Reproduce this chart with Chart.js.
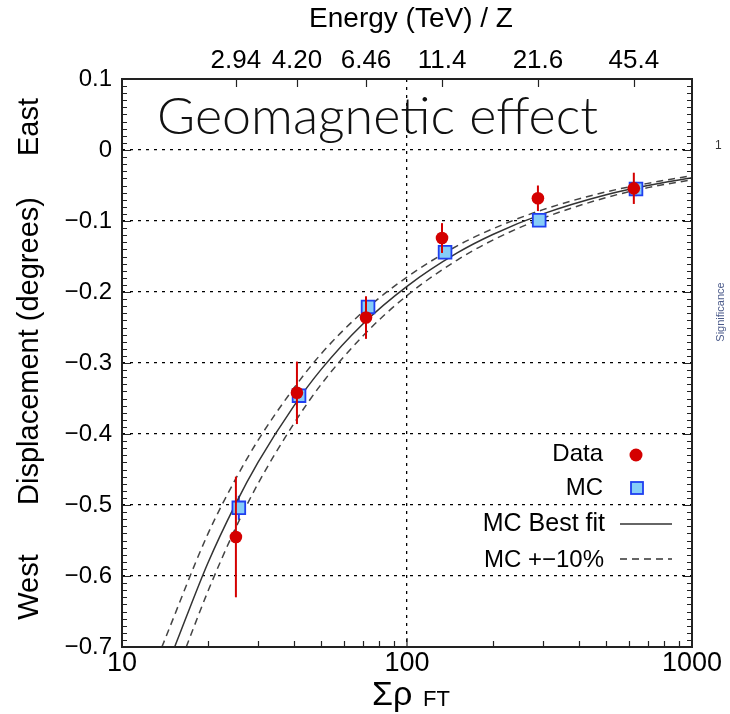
<!DOCTYPE html>
<html>
<head>
<meta charset="utf-8">
<title>Geomagnetic effect</title>
<script src="https://cdn.jsdelivr.net/npm/chart.js@4.4.1/dist/chart.umd.min.js"></script>
<style>
  html, body { margin: 0; padding: 0; background: #fff; }
</style>
</head>
<body>
<canvas id="chart" width="730" height="714"></canvas>
<script>
// bins in sum-rho FT, measured displacement and MC
const dataX = [25.1, 41.1, 71.8, 132.7, 288, 625];
const dataY = [-0.545, -0.342, -0.236, -0.124, -0.068, -0.054];
const dataErr = [0.085, 0.044, 0.030, 0.021, 0.018, 0.022];

const mcX = [25.7, 41.8, 73.0, 136, 291, 636];
const mcY = [-0.504, -0.346, -0.221, -0.144, -0.099, -0.055];
const mcErr = [0.017, 0.008, 0.008, 0.006, 0.006, 0.010];

// MC best fit and the +-10% curves
const fitX = [15.3, 20, 25, 30, 40, 50, 70, 100, 150, 200, 300, 500, 700, 1000];
const fitY = [-0.70, -0.582, -0.499, -0.440, -0.361, -0.309, -0.245, -0.192, -0.145, -0.119, -0.090, -0.063, -0.050, -0.039];
const hiX = [13.8, 20, 25, 30, 40, 50, 70, 100, 150, 200, 300, 500, 700, 1000];
const hiY = [-0.70, -0.541, -0.464, -0.409, -0.336, -0.287, -0.228, -0.179, -0.135, -0.111, -0.084, -0.059, -0.047, -0.036];
const loX = [16.8, 20, 25, 30, 40, 50, 70, 100, 150, 200, 300, 500, 700, 1000];
const loY = [-0.70, -0.622, -0.533, -0.470, -0.386, -0.330, -0.262, -0.205, -0.155, -0.127, -0.096, -0.067, -0.053, -0.042];

// axis ticks
const xTicks = [10, 100, 1000];
const yTicks = [0.1, 0, -0.1, -0.2, -0.3, -0.4, -0.5, -0.6, -0.7];
const energyLabels = ['2.94', '4.20', '6.46', '11.4', '21.6', '45.4'];

const FONT = '"Liberation Sans", Arial, sans-serif';
const RED = '#d40000';
const BLUE = '#1f3ff0';
const LIGHTBLUE = '#86cdf8';

const pts = (xs, ys) => xs.map((x, i) => ({ x: x, y: ys[i] }));

function fmtY(v) {
  const r = Math.round(v * 10) / 10;
  if (r === 0) return '0';
  return (r < 0 ? '\u2212' : '') + Math.abs(r).toFixed(1);
}

function errBars(chart, xs, ys, errs, color, width) {
  const ctx = chart.ctx, sx = chart.scales.x, sy = chart.scales.y;
  ctx.save();
  ctx.strokeStyle = color;
  ctx.lineWidth = width;
  xs.forEach((x, i) => {
    const px = sx.getPixelForValue(x);
    ctx.beginPath();
    ctx.moveTo(px, sy.getPixelForValue(ys[i] + errs[i]));
    ctx.lineTo(px, sy.getPixelForValue(ys[i] - errs[i]));
    ctx.stroke();
  });
  ctx.restore();
}

const decorations = {
  id: 'decorations',
  beforeDatasetsDraw(chart) {
    errBars(chart, mcX, mcY, mcErr, BLUE, 2);
  },
  afterDatasetDraw(chart, args) {
    // red bars go over the MC squares but under the data dots
    if (args.index === 1) errBars(chart, dataX, dataY, dataErr, RED, 2);
  },
  afterDraw(chart) {
    const ctx = chart.ctx;
    const a = chart.chartArea;
    const sx = chart.scales.x, sy = chart.scales.y;
    ctx.save();

    // inward ticks
    ctx.strokeStyle = '#222';
    ctx.lineWidth = 1.2;
    ctx.beginPath();
    for (let k = -70; k <= 10; k++) {
      const py = Math.round(sy.getPixelForValue(k / 100)) + 0.5;
      const len = k % 10 === 0 ? 9 : 5;
      ctx.moveTo(a.left, py); ctx.lineTo(a.left + len, py);
      ctx.moveTo(a.right, py); ctx.lineTo(a.right - len, py);
    }
    [10, 100].forEach(dec => {
      for (let m = 2; m <= 9; m++) {
        const px = Math.round(sx.getPixelForValue(dec * m)) + 0.5;
        ctx.moveTo(px, a.bottom); ctx.lineTo(px, a.bottom - 6);
      }
    });
    const px100 = sx.getPixelForValue(100);
    ctx.moveTo(px100, a.bottom); ctx.lineTo(px100, a.bottom - 9);
    dataX.forEach(x => {
      const px = Math.round(chart.scales.x2.getPixelForValue(x)) + 0.5;
      ctx.moveTo(px, a.top); ctx.lineTo(px, a.top + 8);
    });
    ctx.stroke();

    // frame
    ctx.lineWidth = 2;
    ctx.strokeRect(a.left, a.top, a.right - a.left, a.bottom - a.top);

    ctx.fillStyle = '#000';
    ctx.textBaseline = 'middle';
    ctx.textAlign = 'center';
    ctx.font = '28px ' + FONT;
    ctx.fillText('Energy (TeV) / Z', 411, 19);

    // bottom axis title
    ctx.textBaseline = 'alphabetic';
    ctx.textAlign = 'left';
    ctx.font = '34px ' + FONT;
    ctx.fillText('\u03a3\u03c1', 372, 705);
    ctx.font = '22px ' + FONT;
    ctx.fillText('FT', 423, 706);

    // left titles, rotated
    ctx.font = '29px ' + FONT;
    ctx.textBaseline = 'middle';
    ctx.textAlign = 'center';
    [['East', 127], ['Displacement (degrees)', 351], ['West', 587]].forEach(([t, y]) => {
      ctx.save();
      ctx.translate(30, y);
      ctx.rotate(-Math.PI / 2);
      ctx.fillText(t, 0, 0);
      ctx.restore();
    });

    // big label in the plot
    ctx.textAlign = 'left';
    ctx.textBaseline = 'alphabetic';
    ctx.font = '300 52px Lato, "Open Sans", sans-serif';
    ctx.fillStyle = '#111';
    ctx.fillText('Geomagnetic effect', 157, 134);

    // legend
    ctx.fillStyle = '#000';
    ctx.font = '24px ' + FONT;
    ctx.textAlign = 'right';
    ctx.textBaseline = 'middle';
    ctx.fillText('Data', 603, 454);
    ctx.fillText('MC', 603, 488);
    ctx.font = '25px ' + FONT;
    ctx.fillText('MC Best fit', 605, 524);
    ctx.font = '24px ' + FONT;
    ctx.fillText('MC +\u221210%', 604, 560);

    ctx.beginPath();
    ctx.arc(636, 455, 6.5, 0, Math.PI * 2);
    ctx.fillStyle = RED;
    ctx.fill();
    ctx.fillStyle = LIGHTBLUE;
    ctx.strokeStyle = BLUE;
    ctx.lineWidth = 1.8;
    ctx.fillRect(631, 482, 12, 12);
    ctx.strokeRect(631, 482, 12, 12);

    ctx.strokeStyle = '#333';
    ctx.lineWidth = 1.5;
    ctx.beginPath();
    ctx.moveTo(620, 524); ctx.lineTo(672, 524);
    ctx.stroke();
    ctx.setLineDash([7, 5]);
    ctx.beginPath();
    ctx.moveTo(620, 559); ctx.lineTo(672, 559);
    ctx.stroke();
    ctx.setLineDash([]);

    // bits of the neighbouring panel at the right edge
    ctx.fillStyle = '#333';
    ctx.font = '12px ' + FONT;
    ctx.textAlign = 'left';
    ctx.fillText('1', 715, 146);
    ctx.fillStyle = '#4a5a8a';
    ctx.font = '11px ' + FONT;
    ctx.textAlign = 'center';
    ctx.save();
    ctx.translate(721, 312);
    ctx.rotate(-Math.PI / 2);
    ctx.fillText('Significance', 0, 0);
    ctx.restore();

    ctx.restore();
  }
};

const ctx = document.getElementById('chart').getContext('2d');
new Chart(ctx, {
  type: 'scatter',
  data: {
    datasets: [
      {
        label: 'Data',
        data: pts(dataX, dataY),
        pointRadius: 6.3,
        pointBackgroundColor: RED,
        pointBorderColor: RED,
        pointBorderWidth: 0
      },
      {
        label: 'MC',
        data: pts(mcX, mcY),
        pointStyle: 'rect',
        pointRadius: 9,
        pointBackgroundColor: LIGHTBLUE,
        pointBorderColor: BLUE,
        pointBorderWidth: 1.8
      },
      {
        label: 'MC Best fit',
        data: pts(fitX, fitY),
        showLine: true,
        pointRadius: 0,
        borderColor: '#333',
        borderWidth: 1.5,
        cubicInterpolationMode: 'monotone'
      },
      {
        label: 'MC +10%',
        data: pts(hiX, hiY),
        showLine: true,
        pointRadius: 0,
        borderColor: '#444',
        borderWidth: 1.5,
        borderDash: [7, 5],
        cubicInterpolationMode: 'monotone'
      },
      {
        label: 'MC -10%',
        data: pts(loX, loY),
        showLine: true,
        pointRadius: 0,
        borderColor: '#444',
        borderWidth: 1.5,
        borderDash: [7, 5],
        cubicInterpolationMode: 'monotone'
      }
    ]
  },
  options: {
    responsive: false,
    animation: false,
    events: [],
    layout: { padding: { left: 0, right: 38, top: 0, bottom: 0 } },
    plugins: {
      legend: { display: false },
      tooltip: { enabled: false }
    },
    scales: {
      x: {
        type: 'logarithmic',
        position: 'bottom',
        min: 10,
        max: 1000,
        afterBuildTicks: s => { s.ticks = xTicks.map(v => ({ value: v })); },
        afterFit: s => { s.height = 67; },
        ticks: {
          callback: v => String(v),
          font: { size: 27, family: FONT },
          color: '#000',
          padding: 0,
          maxRotation: 0,
          autoSkip: false
        },
        grid: { color: '#000', lineWidth: 1.3, drawTicks: false },
        border: { display: false, dash: [3, 5] }
      },
      x2: {
        type: 'logarithmic',
        position: 'top',
        min: 10,
        max: 1000,
        afterBuildTicks: s => { s.ticks = dataX.map(v => ({ value: v })); },
        afterFit: s => { s.height = 79; },
        ticks: {
          callback: (v, i) => energyLabels[i],
          font: { size: 26, family: FONT },
          color: '#000',
          padding: 3,
          maxRotation: 0,
          autoSkip: false
        },
        grid: { display: false, drawTicks: false },
        border: { display: false }
      },
      y: {
        type: 'linear',
        min: -0.7,
        max: 0.1,
        afterBuildTicks: s => { s.ticks = yTicks.map(v => ({ value: v })); },
        afterFit: s => { s.width = 122; },
        ticks: {
          callback: v => fmtY(v),
          font: { size: 24, family: FONT },
          color: '#000',
          padding: 10
        },
        grid: { color: '#000', lineWidth: 1.3, drawTicks: false },
        border: { display: false, dash: [3, 5] }
      }
    }
  },
  plugins: [decorations]
});
</script>
</body>
</html>
